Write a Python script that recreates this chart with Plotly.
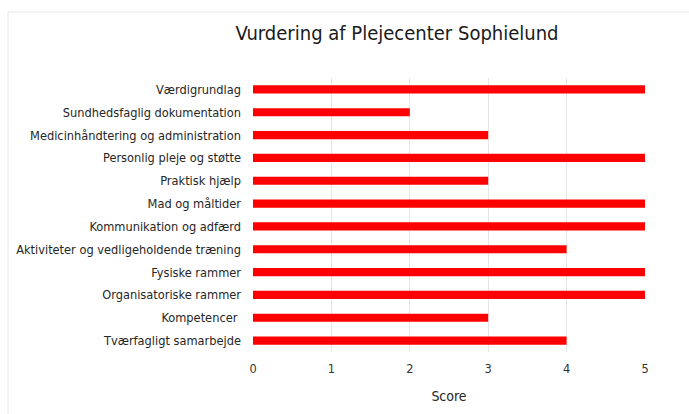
import plotly.graph_objects as go

categories = [
    "Værdigrundlag",
    "Sundhedsfaglig dokumentation",
    "Medicinhåndtering og administration",
    "Personlig pleje og støtte",
    "Praktisk hjælp",
    "Mad og måltider",
    "Kommunikation og adfærd",
    "Aktiviteter og vedligeholdende træning",
    "Fysiske rammer",
    "Organisatoriske rammer",
    "Kompetencer ",
    "Tværfagligt samarbejde",
]
scores = [5, 2, 3, 5, 3, 5, 5, 4, 5, 5, 3, 4]
x_ticks = [0, 1, 2, 3, 4, 5]

FONT = "DejaVu Sans Condensed"

fig = go.Figure(
    go.Bar(
        y=categories,
        x=scores,
        orientation="h",
        marker=dict(color="#ff0000", line=dict(width=0)),
        hoverinfo="x+y",
    )
)

fig.update_layout(
    width=689,
    height=414,
    paper_bgcolor="white",
    plot_bgcolor="white",
    margin=dict(l=253, r=44, t=78, b=62),
    bargap=0.64,
    showlegend=False,
    title=dict(
        text="Vurdering af Plejecenter Sophielund",
        x=397 / 689,
        xanchor="center",
        y=1 - 33 / 414,
        yanchor="middle",
        font=dict(family=FONT, size=20, color="#1a1a1a"),
    ),
    font=dict(family=FONT, size=12.7, color="#262626"),
)

fig.update_xaxes(
    range=[0, 5],
    tickvals=x_ticks,
    showgrid=True,
    gridcolor="#e6e6e6",
    gridwidth=1,
    zeroline=False,
    showline=False,
    ticks="",
    ticklabelstandoff=7,
    tickfont=dict(family=FONT, size=12.7, color="#333333"),
    title=dict(text="Score", font=dict(family=FONT, size=14, color="#262626"), standoff=16),
    fixedrange=True,
)

fig.update_yaxes(
    categoryorder="array",
    categoryarray=categories,
    autorange="reversed",
    showgrid=False,
    zeroline=False,
    showline=False,
    ticks="",
    ticklabelstandoff=11,
    tickfont=dict(family=FONT, size=12.7, color="#262626"),
    fixedrange=True,
)

# light frame around the chart (top and left edges visible in the reference)
fig.add_shape(type="line", xref="paper", yref="paper",
              x0=-0.625, x1=1.2, y0=1.241, y1=1.241,
              line=dict(color="#e8e8e8", width=1))
fig.add_shape(type="line", xref="paper", yref="paper",
              x0=-0.625, x1=-0.625, y0=1.241, y1=-0.3,
              line=dict(color="#e8e8e8", width=1))

fig.write_html(
    "out.html",
    config={"displayModeBar": False},
    post_script="document.body.style.margin='0';",
)
